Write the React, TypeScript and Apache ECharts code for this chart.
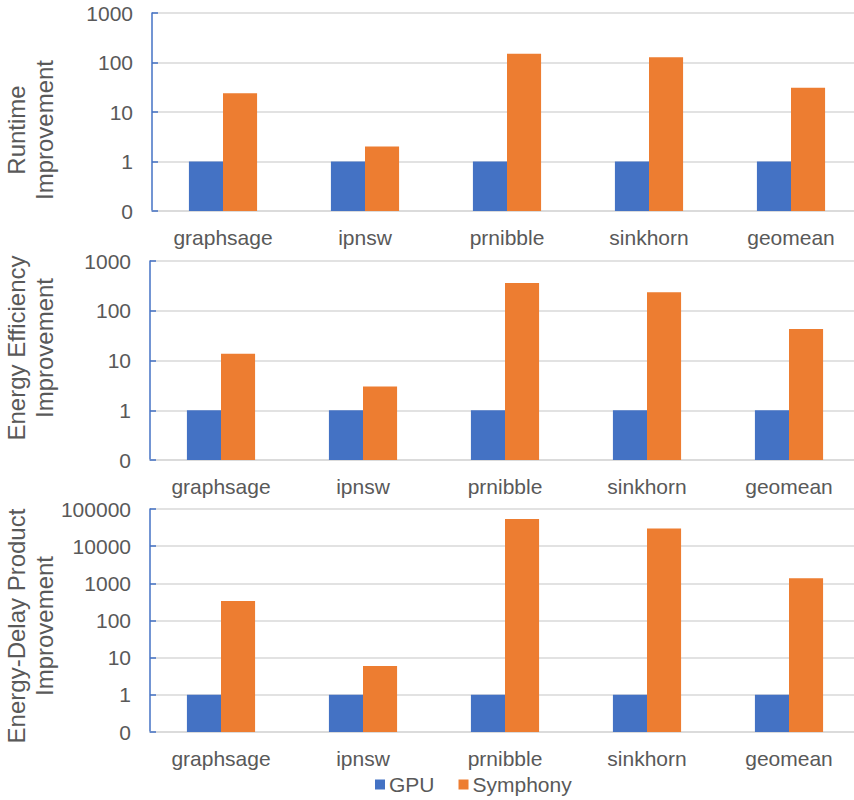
import React, { useEffect, useRef } from "react";
import * as echarts from "echarts";

const categories = ["graphsage", "ipnsw", "prnibble", "sinkhorn", "geomean"];

const runtimeGPU = [1, 1, 1, 1, 1];
const runtimeSymphony = [24, 2, 150, 128, 31];

const energyGPU = [1, 1, 1, 1, 1];
const energySymphony = [13.7, 3, 360, 235, 43];

const edpGPU = [1, 1, 1, 1, 1];
const edpSymphony = [335, 6, 54000, 30000, 1370];

const panelTitles = [
  "Runtime\nImprovement",
  "Energy Efficiency\nImprovement",
  "Energy-Delay Product\nImprovement",
];
// decades shown on each log axis: 0.1 .. 10^maxExp
const panelMaxExp = [3, 3, 5];
const axisMinExp = -1;

const seriesNames = ["GPU", "Symphony"];
const BLUE = "#4472C4";
const ORANGE = "#ED7D31";
const TEXT = "#595959";
const GRID = "#D9D9D9";
const FONT = "Liberation Sans, Arial, sans-serif";

// bars are plotted as decades above the axis floor (0.1), so the bars grow from it
const toDecades = (v: number) => Math.log10(v) - axisMinExp;

export default function App() {
  const ref = useRef<HTMLDivElement>(null);

  useEffect(() => {
    if (!ref.current) return;
    const chart = echarts.init(ref.current, null, { renderer: "svg" });

    // plot areas run past the right edge of the visible frame
    const grids = [
      { left: 152, top: 13, width: 710, height: 198 },
      { left: 150, top: 261, width: 710, height: 199 },
      { left: 150, top: 509, width: 710, height: 223 },
    ];
    const titleCenters = [
      [30, 130],
      [30, 348],
      [30, 626],
    ];

    const panels = [
      [runtimeGPU, runtimeSymphony],
      [energyGPU, energySymphony],
      [edpGPU, edpSymphony],
    ];

    const xAxis = grids.map((_, i) => ({
      type: "category" as const,
      gridIndex: i,
      data: categories,
      axisLine: { show: true, lineStyle: { color: GRID, width: 1.5 } },
      axisTick: { show: false },
      axisLabel: { color: TEXT, fontSize: 21, fontFamily: FONT, margin: 16 },
    }));

    const yAxis = grids.map((_, i) => ({
      type: "value" as const,
      gridIndex: i,
      min: 0,
      max: panelMaxExp[i] - axisMinExp,
      interval: 1,
      axisLine: { show: true, lineStyle: { color: BLUE, width: 1.5 } },
      axisTick: { show: true, inside: true, length: 6, lineStyle: { color: BLUE, width: 1.5 } },
      splitLine: { show: true, lineStyle: { color: GRID, width: 1.5 } },
      axisLabel: {
        color: TEXT,
        fontSize: 21,
        fontFamily: FONT,
        margin: 19,
        formatter: (v: number) => {
          const e = Math.round(v + axisMinExp);
          return e < 0 ? "0" : String(Math.round(Math.pow(10, e)));
        },
      },
    }));

    const series: any[] = [];
    panels.forEach((pair, i) => {
      pair.forEach((vals, s) => {
        series.push({
          type: "bar",
          name: seriesNames[s],
          xAxisIndex: i,
          yAxisIndex: i,
          data: vals.map(toDecades),
          barGap: "0%",
          barCategoryGap: "52%",
          itemStyle: { color: s === 0 ? BLUE : ORANGE },
        });
      });
    });

    chart.setOption({
      animation: false,
      backgroundColor: "#ffffff",
      grid: grids,
      xAxis,
      yAxis,
      series,
      legend: {
        data: seriesNames,
        left: 370,
        top: 769,
        icon: "rect",
        itemWidth: 10,
        itemHeight: 10,
        itemGap: 24,
        textStyle: { color: TEXT, fontSize: 21, fontFamily: FONT, padding: [0, 0, 0, -1] },
      },
      graphic: panelTitles.map((t, i) => ({
        type: "text",
        x: titleCenters[i][0],
        y: titleCenters[i][1],
        rotation: Math.PI / 2,
        style: {
          text: t,
          fill: TEXT,
          font: `24px ${FONT}`,
          textAlign: "center",
          textVerticalAlign: "middle",
          lineHeight: 28,
        },
      })),
    });

    return () => chart.dispose();
  }, []);

  return (
    <div
      style={{
        position: "absolute",
        left: 0,
        top: 0,
        width: 854,
        height: 800,
        overflow: "hidden",
      }}
    >
      <div ref={ref} style={{ width: 880, height: 800 }} />
    </div>
  );
}
